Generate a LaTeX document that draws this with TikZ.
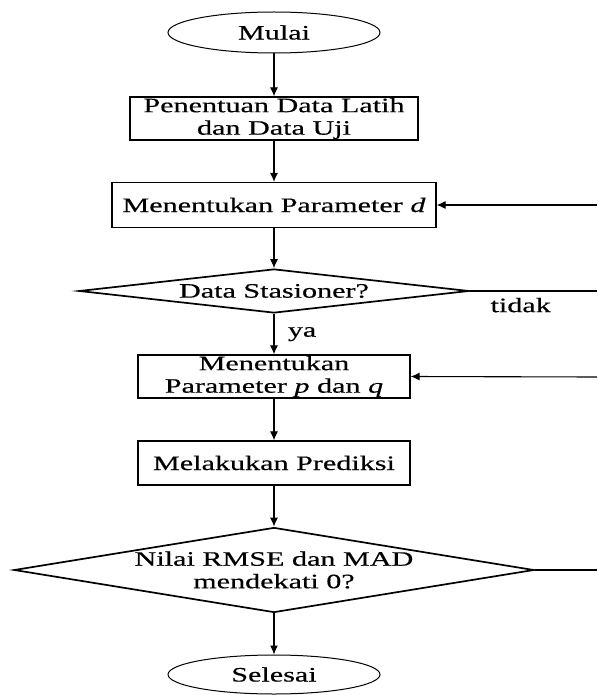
\documentclass[tikz,border=0pt]{standalone}
\usepackage{fontspec}
\setmainfont{Liberation Serif}[FakeStretch=1.47,FakeBold=0.4]
\usetikzlibrary{shapes.geometric,arrows.meta}
\tikzset{
  every node/.style={font=\fontsize{20.5}{22.5}\selectfont, text=black},
  term/.style={draw, ellipse, line width=1pt, minimum width=212pt, minimum height=41pt, inner sep=0pt},
  proc/.style={draw, rectangle, line width=1.2pt, inner sep=0pt, align=center},
  dec/.style={draw, diamond, line width=1.7pt, inner sep=0pt},
  conn/.style={line width=1.1pt, -{Latex[length=9pt,width=8pt]}},
  plain/.style={line width=1.1pt},
  lbl/.style={inner sep=0pt, align=center}
}
\begin{document}
\begin{tikzpicture}[x=1pt,y=-1pt]
\useasboundingbox[fill=white] (0,0) rectangle (597,695);
\node[term] (m) at (274,32.5) {Mulai};
\node[proc, minimum width=288pt, minimum height=43pt] (b1) at (274,118.5) {Penentuan Data Latih\\dan Data Uji};
\node[proc, minimum width=324pt, minimum height=45pt] (b2) at (274,205) {Menentukan Parameter \textit{d}};
\node[dec, minimum width=390pt, minimum height=44pt, label={[lbl,name=d1t]center:Data Stasioner?}] (d1) at (274,291) {};
\node[proc, minimum width=272pt, minimum height=43pt] (b3) at (274,376.5) {Menentukan\\Parameter \textit{p} dan \textit{q}};
\node[proc, minimum width=272pt, minimum height=44pt] (b4) at (274,463) {Melakukan Prediksi};
\node[dec, minimum width=520pt, minimum height=85pt, label={[lbl,name=d2t]center:Nilai RMSE dan MAD\\mendekati 0?}] (d2) at (274,570) {};
\node[term, minimum height=39pt] (s) at (274,674.5) {Selesai};
\coordinate (r1) at (597,205);
\coordinate (r2) at (597,291);
\coordinate (r3) at (597,377);
\coordinate (r4) at (597,570);
\draw[conn] (m) -- (b1);
\draw[conn] (b1) -- (b2);
\draw[conn] (b2) -- (d1);
\draw[conn] (d1) -- node[right, xshift=10pt] (ya) {ya} (b3);
\draw[conn] (b3) -- (b4);
\draw[conn] (b4) -- (d2);
\draw[conn] (d2) -- (s);
\draw[plain] (d1.east) -- node[pos=0.4, below=3pt] (td) {tidak} (r2);
\draw[conn] (r1) -- (b2.east);
\draw[conn] (r3) -- (b3.east);
\draw[plain] (d2.east) -- (r4);
\end{tikzpicture}
\end{document}
